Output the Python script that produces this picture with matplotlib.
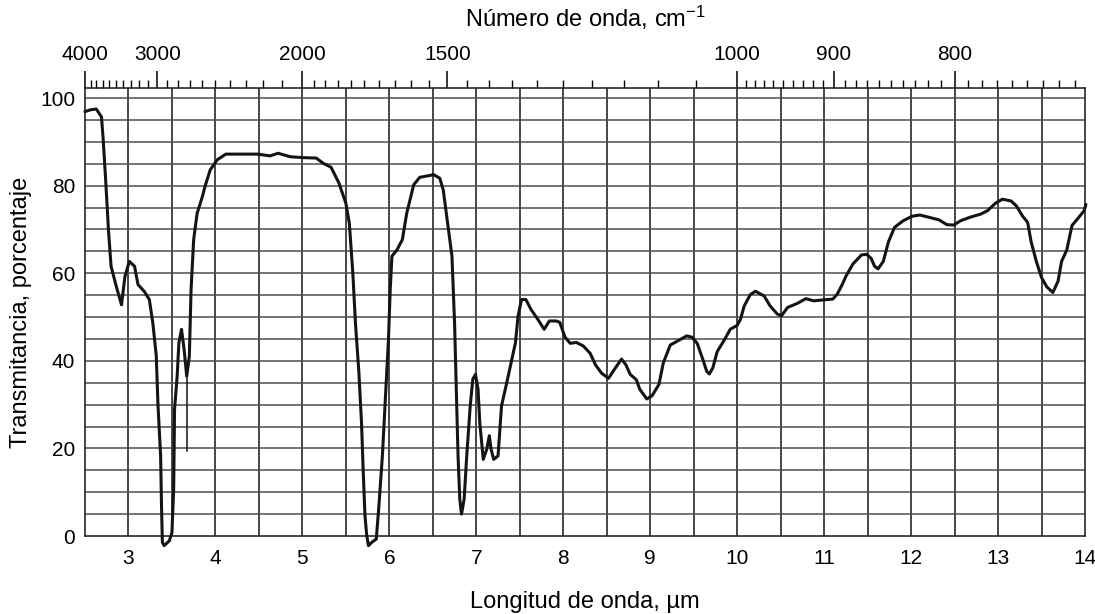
import matplotlib
matplotlib.use("Agg")
import matplotlib.pyplot as plt
import numpy as np

# spectrum: wavelength (um) and transmittance (%)
wavelength = [2.50, 2.56, 2.63, 2.69, 2.71, 2.74, 2.77, 2.80, 2.86, 2.92,
              2.96, 3.01, 3.07, 3.11, 3.18, 3.24, 3.28, 3.32, 3.34, 3.37,
              3.38, 3.39, 3.41, 3.47, 3.50, 3.52, 3.53, 3.56, 3.58, 3.61,
              3.64, 3.67, 3.70, 3.72, 3.75, 3.79, 3.85, 3.88, 3.94, 4.02,
              4.12, 4.25, 4.48, 4.63, 4.72, 4.86, 5.01, 5.16, 5.24, 5.33,
              5.42, 5.50, 5.54, 5.58, 5.61, 5.65, 5.68, 5.70, 5.72, 5.74,
              5.76, 5.80, 5.85, 5.88, 5.92, 5.96, 5.99, 6.01, 6.03, 6.09,
              6.15, 6.20, 6.28, 6.35, 6.51, 6.58, 6.62, 6.66, 6.72, 6.75,
              6.77, 6.79, 6.81, 6.83, 6.86, 6.89, 6.93, 6.96, 6.99, 7.02,
              7.04, 7.08, 7.12, 7.15, 7.17, 7.20, 7.25, 7.29, 7.35, 7.40,
              7.45, 7.48, 7.52, 7.57, 7.63, 7.71, 7.78, 7.84, 7.92, 7.96,
              8.02, 8.08, 8.15, 8.23, 8.31, 8.37, 8.44, 8.52, 8.60, 8.67,
              8.72, 8.77, 8.84, 8.88, 8.96, 9.02, 9.10, 9.15, 9.23, 9.33,
              9.42, 9.48, 9.54, 9.60, 9.65, 9.68, 9.72, 9.77, 9.85, 9.92,
              10.00, 10.04, 10.08, 10.15, 10.21, 10.31, 10.38, 10.46, 10.51, 10.58,
              10.69, 10.79, 10.88, 10.98, 11.10, 11.15, 11.21, 11.25, 11.33, 11.43,
              11.49, 11.54, 11.58, 11.62, 11.68, 11.74, 11.81, 11.91, 12.01, 12.10,
              12.20, 12.32, 12.41, 12.49, 12.57, 12.68, 12.80, 12.88, 12.97, 13.05,
              13.15, 13.21, 13.28, 13.34, 13.38, 13.44, 13.50, 13.56, 13.63, 13.69,
              13.73, 13.79, 13.85, 13.93, 13.99, 14.01]
transmittance = [96.9, 97.3, 97.5, 95.7, 90.4, 80.6, 69.9, 61.6, 57.0, 52.8,
                 59.3, 62.7, 61.6, 57.4, 55.9, 54.0, 48.7, 41.1, 29.7, 18.3,
                 6.9, -1.4, -2.2, -1.1, 0.8, 10.7, 28.9, 36.5, 44.1, 47.2,
                 42.6, 36.5, 41.0, 56.3, 67.7, 73.7, 77.5, 79.8, 83.6, 85.9,
                 87.2, 87.2, 87.2, 86.8, 87.4, 86.6, 86.4, 86.3, 85.1, 84.2,
                 80.6, 76.0, 71.4, 60.1, 48.7, 37.3, 25.9, 14.5, 4.6, 0.1,
                 -2.2, -1.4, -0.7, 6.9, 18.3, 33.5, 44.9, 56.3, 63.9, 65.4,
                 67.7, 73.7, 80.2, 81.9, 82.5, 81.7, 79.0, 73.0, 63.9, 48.7,
                 33.5, 18.3, 8.4, 5.0, 8.4, 18.3, 29.7, 35.8, 36.9, 33.5,
                 25.9, 17.5, 19.8, 22.9, 19.8, 17.5, 18.3, 29.7, 35.0, 39.6,
                 44.1, 50.2, 54.0, 54.0, 51.7, 49.4, 47.2, 49.1, 49.1, 48.8,
                 45.4, 44.0, 44.2, 43.4, 41.7, 39.1, 37.2, 36.0, 38.4, 40.4,
                 39.1, 36.9, 35.7, 33.5, 31.3, 32.0, 34.6, 39.5, 43.6, 44.7,
                 45.7, 45.4, 44.0, 40.6, 37.6, 37.0, 38.4, 42.1, 44.7, 47.2,
                 48.1, 49.6, 52.5, 55.1, 55.9, 54.8, 52.5, 50.7, 50.3, 52.2,
                 53.1, 54.2, 53.7, 53.9, 54.1, 55.2, 57.5, 59.3, 62.1, 64.2,
                 64.3, 63.4, 61.6, 61.0, 62.7, 67.2, 70.5, 72.0, 73.0, 73.3,
                 72.8, 72.2, 71.1, 71.0, 72.0, 72.8, 73.5, 74.3, 76.0, 76.9,
                 76.5, 75.4, 73.1, 71.6, 67.2, 62.7, 59.0, 56.9, 55.6, 58.2,
                 62.7, 65.3, 70.9, 72.8, 74.3, 75.7]

# thin pen stroke that drops from the 3.67 um band
spike_x = [3.67, 3.67]
spike_y = [36.5, 19.5]

bottom_ticks = [3, 4, 5, 6, 7, 8, 9, 10, 11, 12, 13, 14]
left_ticks = [0, 20, 40, 60, 80, 100]
top_ticks = [4000, 3000, 2000, 1500, 1000, 900, 800]
top_minor = list(range(4000, 2000, -100)) + list(range(2000, 1000, -50)) + list(range(1000, 710, -10))

plt.rcParams['font.family'] = ['Liberation Sans', 'DejaVu Sans']
plt.rcParams['mathtext.fontset'] = 'custom'
plt.rcParams['mathtext.rm'] = 'Liberation Sans'
plt.rcParams['mathtext.it'] = 'Liberation Sans:italic'
plt.rcParams['font.size'] = 15

fig = plt.figure(figsize=(10.95, 6.14), dpi=100)
ax = fig.add_axes([0.0776, 0.127, 0.9133, 0.7297])

ax.set_xlim(2.5, 14)
ax.set_ylim(0, 102.3)

# paper grid
for xv in np.arange(3.0, 14.0, 0.5):
    ax.axvline(xv, color='#1e1e1e', lw=1.15, zorder=1)
for yv in np.arange(5, 101, 5):
    ax.axhline(yv, color='#4d4d4d', lw=1.1, zorder=1)

ax.plot(wavelength, transmittance, color='#141414', lw=2.2, clip_on=False,
        solid_joinstyle='round', solid_capstyle='round', zorder=3)
ax.plot(spike_x, spike_y, color='#141414', lw=1.1, zorder=3)

for s in ax.spines.values():
    s.set_linewidth(1.15)
    s.set_color('#1e1e1e')

ax.set_xticks(bottom_ticks)
ax.set_yticks(left_ticks)
ax.tick_params(axis='x', length=0, pad=9)
ax.tick_params(axis='y', length=0, pad=7)
ax.set_xlabel('Longitud de onda, µm', fontsize=17, labelpad=17)
ax.set_ylabel('Transmitancia, porcentaje', fontsize=17, labelpad=6)


def to_wn(x):
    x = np.asarray(x, dtype=float)
    with np.errstate(divide='ignore', invalid='ignore'):
        return 1e4 / x


secax = ax.secondary_xaxis('top', functions=(to_wn, to_wn))
secax.set_xticks(top_ticks)
secax.set_xticklabels([str(t) for t in top_ticks])
secax.set_xticks(top_minor, minor=True)
secax.tick_params(which='major', length=12, width=1.1, pad=5)
secax.tick_params(which='minor', length=5.5, width=1.0)
secax.spines['top'].set_visible(False)
secax.set_xlabel('Número de onda, cm$^{-1}$', fontsize=17, labelpad=13)

plt.savefig('out.png', dpi=100)
